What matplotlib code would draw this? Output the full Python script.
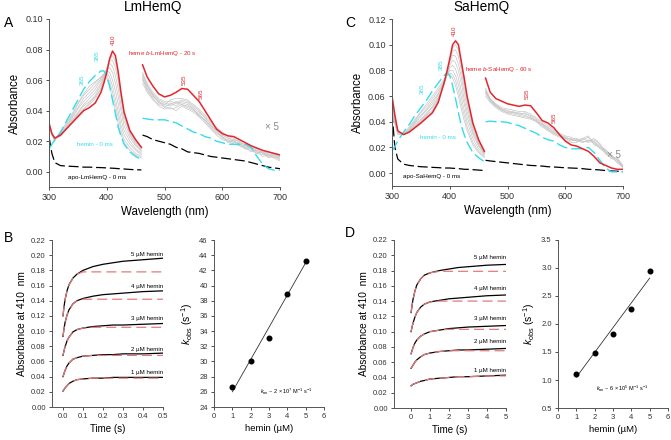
import numpy as np
import matplotlib
matplotlib.use("Agg")
import matplotlib.pyplot as plt

plt.rcParams['font.family'] = ['Liberation Sans', 'DejaVu Sans']
plt.rcParams['mathtext.fontset'] = 'custom'
plt.rcParams['mathtext.rm'] = 'Liberation Sans'
plt.rcParams['mathtext.it'] = 'Liberation Sans:italic'

RED = '#e3262d'
CYAN = '#36dced'
GRAY = '#c6c6c6'
FIT = '#e37b7b'

# ---------------- spectra data ----------------
wl_left = [300, 305, 310, 320, 330, 340, 350, 360, 370, 380, 390, 395, 400, 405, 410, 415, 420, 425, 430, 440, 450, 460]
wl_right = [462, 470, 480, 490, 500, 510, 520, 530, 540, 550, 560, 570, 580, 590, 600, 610, 620, 630, 640, 650, 660, 670, 680, 690, 700]

# LmHemQ
lm_red_left = [0.032, 0.025, 0.022, 0.024, 0.028, 0.032, 0.036, 0.040, 0.042, 0.045, 0.052, 0.058, 0.065, 0.074, 0.079, 0.076, 0.065, 0.051, 0.039, 0.027, 0.021, 0.016]
lm_cyan_left = [0.015, 0.018, 0.021, 0.026, 0.033, 0.040, 0.047, 0.054, 0.059, 0.063, 0.066, 0.066, 0.063, 0.056, 0.047, 0.038, 0.029, 0.023, 0.018, 0.013, 0.010, 0.008]
lm_apo_left = [0.023, 0.012, 0.006, 0.004, 0.0037, 0.0035, 0.0033, 0.003, 0.003, 0.0028, 0.0027, 0.0026, 0.0025, 0.0024, 0.0023, 0.0022, 0.002, 0.002, 0.0018, 0.0015, 0.0013, 0.0012]
lm_gray_left = [
    [0.030, 0.024, 0.020, 0.026, 0.032, 0.038, 0.045, 0.051, 0.056, 0.059, 0.062, 0.063, 0.061, 0.056, 0.048, 0.040, 0.031, 0.024, 0.019, 0.014, 0.011, 0.009],
    [0.030, 0.024, 0.021, 0.025, 0.031, 0.037, 0.044, 0.050, 0.054, 0.058, 0.062, 0.064, 0.063, 0.059, 0.052, 0.044, 0.035, 0.027, 0.021, 0.016, 0.012, 0.010],
    [0.031, 0.025, 0.021, 0.025, 0.030, 0.036, 0.042, 0.048, 0.052, 0.056, 0.061, 0.064, 0.065, 0.062, 0.056, 0.048, 0.039, 0.030, 0.024, 0.018, 0.014, 0.011],
    [0.029, 0.024, 0.021, 0.024, 0.029, 0.035, 0.041, 0.046, 0.050, 0.054, 0.060, 0.064, 0.066, 0.065, 0.060, 0.053, 0.044, 0.034, 0.027, 0.020, 0.015, 0.012],
    [0.031, 0.025, 0.022, 0.024, 0.029, 0.034, 0.039, 0.044, 0.048, 0.052, 0.058, 0.063, 0.067, 0.068, 0.065, 0.058, 0.049, 0.039, 0.030, 0.022, 0.017, 0.013],
    [0.030, 0.024, 0.021, 0.024, 0.028, 0.033, 0.038, 0.043, 0.046, 0.050, 0.057, 0.062, 0.068, 0.071, 0.069, 0.063, 0.054, 0.043, 0.033, 0.024, 0.018, 0.014],
    [0.032, 0.025, 0.022, 0.023, 0.028, 0.032, 0.037, 0.041, 0.045, 0.049, 0.055, 0.061, 0.068, 0.073, 0.073, 0.068, 0.059, 0.047, 0.036, 0.025, 0.019, 0.015],
    [0.031, 0.025, 0.022, 0.024, 0.028, 0.033, 0.037, 0.041, 0.044, 0.048, 0.054, 0.060, 0.067, 0.074, 0.076, 0.072, 0.062, 0.049, 0.037, 0.026, 0.020, 0.015],
]
lm_red_right = [0.070, 0.062, 0.056, 0.051, 0.049, 0.050, 0.052, 0.0545, 0.054, 0.050, 0.046, 0.040, 0.034, 0.028, 0.025, 0.0235, 0.023, 0.021, 0.019, 0.017, 0.0155, 0.014, 0.013, 0.012, 0.011]
lm_cyan_right = [0.035, 0.0345, 0.034, 0.034, 0.034, 0.033, 0.032, 0.030, 0.028, 0.026, 0.025, 0.023, 0.022, 0.020, 0.019, 0.018, 0.018, 0.018, 0.018, 0.016, 0.010, 0.005, 0.002, 0.001, 0.001]
lm_apo_right = [0.024, 0.023, 0.021, 0.020, 0.019, 0.018, 0.016, 0.015, 0.013, 0.0125, 0.012, 0.011, 0.010, 0.0095, 0.009, 0.0085, 0.008, 0.0075, 0.007, 0.006, 0.005, 0.004, 0.003, 0.0025, 0.002]
lm_gray_right = [
    [0.064, 0.058, 0.052, 0.048, 0.046, 0.046, 0.045, 0.047, 0.046, 0.043, 0.040, 0.035, 0.032, 0.028, 0.024, 0.022, 0.021, 0.020, 0.017, 0.016, 0.014, 0.013, 0.010, 0.012, 0.009],
    [0.062, 0.055, 0.050, 0.045, 0.044, 0.043, 0.045, 0.044, 0.043, 0.041, 0.037, 0.034, 0.030, 0.026, 0.023, 0.020, 0.020, 0.018, 0.016, 0.015, 0.012, 0.014, 0.011, 0.010, 0.008],
    [0.060, 0.054, 0.049, 0.046, 0.042, 0.045, 0.043, 0.046, 0.045, 0.042, 0.039, 0.036, 0.031, 0.027, 0.022, 0.021, 0.019, 0.019, 0.015, 0.016, 0.013, 0.011, 0.012, 0.009, 0.010],
    [0.058, 0.052, 0.047, 0.044, 0.043, 0.041, 0.042, 0.044, 0.042, 0.040, 0.038, 0.033, 0.029, 0.025, 0.023, 0.019, 0.021, 0.017, 0.016, 0.013, 0.014, 0.012, 0.009, 0.011, 0.008],
    [0.063, 0.056, 0.051, 0.047, 0.045, 0.044, 0.046, 0.045, 0.044, 0.041, 0.036, 0.034, 0.030, 0.027, 0.024, 0.022, 0.020, 0.018, 0.017, 0.015, 0.013, 0.010, 0.011, 0.012, 0.010],
    [0.061, 0.053, 0.048, 0.043, 0.041, 0.042, 0.040, 0.043, 0.041, 0.039, 0.036, 0.032, 0.028, 0.024, 0.021, 0.020, 0.018, 0.017, 0.015, 0.014, 0.012, 0.013, 0.010, 0.009, 0.007],
    [0.065, 0.057, 0.050, 0.046, 0.044, 0.047, 0.048, 0.048, 0.047, 0.044, 0.041, 0.037, 0.033, 0.029, 0.026, 0.023, 0.022, 0.019, 0.018, 0.016, 0.015, 0.012, 0.013, 0.011, 0.010],
]

# SaHemQ
sa_red_left = [0.060, 0.045, 0.033, 0.030, 0.032, 0.0355, 0.039, 0.043, 0.047, 0.055, 0.070, 0.079, 0.089, 0.100, 0.103, 0.100, 0.087, 0.074, 0.060, 0.039, 0.026, 0.017]
sa_cyan_left = [0.017, 0.021, 0.025, 0.032, 0.038, 0.045, 0.051, 0.057, 0.064, 0.070, 0.076, 0.078, 0.076, 0.068, 0.058, 0.047, 0.037, 0.030, 0.024, 0.016, 0.012, 0.009]
sa_apo_left = [0.047, 0.020, 0.011, 0.007, 0.006, 0.0055, 0.005, 0.0048, 0.0045, 0.0043, 0.004, 0.004, 0.004, 0.0038, 0.0037, 0.0035, 0.0033, 0.003, 0.003, 0.0027, 0.0024, 0.002]
sa_gray_left = [
    [0.050, 0.038, 0.030, 0.031, 0.036, 0.042, 0.048, 0.054, 0.060, 0.066, 0.073, 0.076, 0.077, 0.074, 0.068, 0.060, 0.050, 0.041, 0.033, 0.022, 0.016, 0.012],
    [0.052, 0.039, 0.031, 0.030, 0.035, 0.041, 0.047, 0.052, 0.058, 0.064, 0.072, 0.076, 0.078, 0.077, 0.072, 0.064, 0.054, 0.045, 0.036, 0.024, 0.017, 0.013],
    [0.053, 0.040, 0.031, 0.030, 0.034, 0.040, 0.045, 0.050, 0.056, 0.062, 0.071, 0.076, 0.080, 0.080, 0.076, 0.069, 0.059, 0.049, 0.040, 0.027, 0.019, 0.014],
    [0.055, 0.041, 0.032, 0.030, 0.034, 0.039, 0.044, 0.049, 0.054, 0.061, 0.070, 0.076, 0.082, 0.084, 0.081, 0.074, 0.064, 0.054, 0.044, 0.030, 0.021, 0.015],
    [0.056, 0.042, 0.032, 0.030, 0.033, 0.038, 0.042, 0.047, 0.052, 0.059, 0.069, 0.076, 0.084, 0.088, 0.086, 0.080, 0.070, 0.058, 0.048, 0.032, 0.022, 0.015],
    [0.057, 0.043, 0.032, 0.030, 0.033, 0.037, 0.041, 0.046, 0.051, 0.058, 0.069, 0.076, 0.086, 0.092, 0.091, 0.085, 0.075, 0.063, 0.052, 0.034, 0.023, 0.016],
    [0.058, 0.044, 0.033, 0.030, 0.032, 0.036, 0.040, 0.045, 0.049, 0.057, 0.070, 0.077, 0.087, 0.095, 0.096, 0.091, 0.080, 0.067, 0.055, 0.036, 0.024, 0.016],
    [0.059, 0.044, 0.033, 0.030, 0.032, 0.036, 0.040, 0.044, 0.048, 0.056, 0.070, 0.078, 0.088, 0.098, 0.100, 0.096, 0.084, 0.071, 0.058, 0.038, 0.025, 0.017],
]
sa_red_right = [0.074, 0.063, 0.058, 0.056, 0.054, 0.053, 0.052, 0.053, 0.0525, 0.047, 0.041, 0.039, 0.0355, 0.030, 0.025, 0.022, 0.021, 0.019, 0.017, 0.013, 0.008, 0.006, 0.004, 0.003, 0.003]
sa_cyan_right = [0.040, 0.0405, 0.040, 0.040, 0.0395, 0.038, 0.037, 0.035, 0.033, 0.031, 0.028, 0.026, 0.025, 0.022, 0.020, 0.019, 0.019, 0.019, 0.020, 0.016, 0.010, 0.004, 0.001, 0.001, 0.001]
sa_apo_right = [0.010, 0.0095, 0.009, 0.0085, 0.008, 0.0075, 0.007, 0.0065, 0.006, 0.0058, 0.0055, 0.005, 0.0048, 0.0045, 0.0042, 0.004, 0.0038, 0.0035, 0.003, 0.0028, 0.0025, 0.002, 0.0017, 0.0015, 0.0012]
sa_gray_right = [
    [0.066, 0.058, 0.054, 0.051, 0.050, 0.049, 0.048, 0.048, 0.046, 0.043, 0.040, 0.037, 0.034, 0.031, 0.029, 0.028, 0.026, 0.027, 0.025, 0.026, 0.022, 0.018, 0.014, 0.010, 0.006],
    [0.064, 0.057, 0.053, 0.050, 0.048, 0.047, 0.047, 0.046, 0.045, 0.042, 0.039, 0.035, 0.033, 0.030, 0.028, 0.026, 0.027, 0.024, 0.026, 0.023, 0.020, 0.017, 0.013, 0.011, 0.005],
    [0.062, 0.056, 0.052, 0.049, 0.047, 0.048, 0.046, 0.045, 0.043, 0.041, 0.037, 0.034, 0.031, 0.029, 0.027, 0.027, 0.025, 0.026, 0.028, 0.024, 0.021, 0.015, 0.012, 0.009, 0.004],
    [0.065, 0.058, 0.053, 0.050, 0.049, 0.047, 0.046, 0.047, 0.044, 0.040, 0.038, 0.036, 0.032, 0.030, 0.027, 0.025, 0.026, 0.025, 0.024, 0.025, 0.019, 0.016, 0.011, 0.012, 0.006],
    [0.060, 0.055, 0.051, 0.048, 0.046, 0.045, 0.044, 0.043, 0.042, 0.040, 0.036, 0.033, 0.030, 0.028, 0.026, 0.024, 0.024, 0.027, 0.029, 0.022, 0.020, 0.018, 0.013, 0.008, 0.005],
    [0.063, 0.057, 0.052, 0.049, 0.047, 0.046, 0.045, 0.044, 0.043, 0.041, 0.038, 0.034, 0.031, 0.029, 0.028, 0.026, 0.025, 0.024, 0.025, 0.027, 0.023, 0.016, 0.014, 0.010, 0.005],
]

# ---------------- kinetics data ----------------
conc_labels = ['1 µM hemin', '2 µM hemin', '3 µM hemin', '4 µM hemin', '5 µM hemin']

t_lm = [0, 0.005, 0.01, 0.02, 0.03, 0.05, 0.07, 0.1, 0.15, 0.2, 0.25, 0.3, 0.4, 0.5]
lm_trace = [
    [0.021, 0.023, 0.025, 0.028, 0.031, 0.034, 0.036, 0.037, 0.038, 0.038, 0.039, 0.039, 0.039, 0.039],
    [0.040, 0.044, 0.048, 0.054, 0.058, 0.063, 0.065, 0.067, 0.068, 0.069, 0.069, 0.070, 0.070, 0.071],
    [0.068, 0.074, 0.079, 0.087, 0.092, 0.099, 0.102, 0.104, 0.106, 0.107, 0.108, 0.108, 0.109, 0.110],
    [0.093, 0.103, 0.111, 0.121, 0.128, 0.136, 0.140, 0.143, 0.146, 0.148, 0.149, 0.150, 0.152, 0.153],
    [0.120, 0.132, 0.141, 0.153, 0.161, 0.170, 0.175, 0.180, 0.185, 0.188, 0.190, 0.192, 0.194, 0.196],
]
lm_fit = [
    [0.021, 0.023, 0.025, 0.028, 0.031, 0.034, 0.036, 0.037, 0.038, 0.038, 0.038, 0.038, 0.038, 0.038],
    [0.040, 0.044, 0.048, 0.054, 0.058, 0.063, 0.065, 0.067, 0.068, 0.068, 0.068, 0.068, 0.068, 0.068],
    [0.068, 0.074, 0.079, 0.087, 0.092, 0.099, 0.102, 0.104, 0.105, 0.105, 0.105, 0.105, 0.105, 0.105],
    [0.093, 0.103, 0.111, 0.121, 0.128, 0.136, 0.140, 0.142, 0.142, 0.142, 0.142, 0.142, 0.142, 0.142],
    [0.120, 0.132, 0.141, 0.153, 0.161, 0.170, 0.175, 0.178, 0.178, 0.178, 0.178, 0.178, 0.178, 0.178],
]
lm_label_y = [0.045, 0.076, 0.117, 0.159, 0.201]

t_sa = [0, 0.05, 0.1, 0.2, 0.3, 0.5, 0.7, 1.0, 1.5, 2.0, 2.5, 3.0, 4.0, 5.0]
sa_trace = [
    [0.029, 0.030, 0.031, 0.032, 0.033, 0.035, 0.036, 0.038, 0.039, 0.040, 0.041, 0.041, 0.042, 0.043],
    [0.052, 0.054, 0.056, 0.060, 0.063, 0.067, 0.070, 0.072, 0.074, 0.075, 0.076, 0.076, 0.077, 0.078],
    [0.071, 0.075, 0.079, 0.085, 0.089, 0.094, 0.097, 0.100, 0.102, 0.104, 0.105, 0.106, 0.107, 0.108],
    [0.100, 0.106, 0.111, 0.119, 0.125, 0.132, 0.136, 0.139, 0.141, 0.143, 0.144, 0.145, 0.147, 0.148],
    [0.125, 0.134, 0.142, 0.153, 0.161, 0.169, 0.174, 0.177, 0.180, 0.182, 0.184, 0.185, 0.187, 0.188],
]
sa_fit = [
    [0.029, 0.030, 0.031, 0.032, 0.033, 0.035, 0.036, 0.038, 0.039, 0.040, 0.041, 0.041, 0.042, 0.042],
    [0.052, 0.054, 0.056, 0.060, 0.063, 0.067, 0.070, 0.072, 0.074, 0.075, 0.075, 0.075, 0.075, 0.075],
    [0.071, 0.075, 0.079, 0.085, 0.089, 0.094, 0.097, 0.100, 0.102, 0.103, 0.103, 0.103, 0.103, 0.103],
    [0.100, 0.106, 0.111, 0.119, 0.125, 0.132, 0.136, 0.139, 0.140, 0.140, 0.140, 0.140, 0.140, 0.140],
    [0.125, 0.134, 0.142, 0.153, 0.161, 0.169, 0.174, 0.177, 0.179, 0.179, 0.179, 0.179, 0.179, 0.179],
]
sa_label_y = [0.049, 0.087, 0.117, 0.157, 0.197]

hemin_conc = [1, 2, 3, 4, 5]
lm_kobs = [26.7, 30.1, 33.1, 38.9, 43.2]
lm_kobs_line = [26.0, 43.0]
sa_kobs = [1.11, 1.49, 1.82, 2.26, 2.95]
sa_kobs_line = [1.05, 2.82]

W, H = 671, 440
fig = plt.figure(figsize=(W / 100, H / 100), dpi=100)


def box(left, top, right, bottom):
    return fig.add_axes([left / W, 1 - bottom / H, (right - left) / W, (bottom - top) / H])


def style(ax, size):
    for s in ['top', 'right']:
        ax.spines[s].set_visible(False)
    for s in ['left', 'bottom']:
        ax.spines[s].set_linewidth(0.7)
        ax.spines[s].set_color('#555555')
    ax.tick_params(direction='out', length=2.5, width=0.6, labelsize=size, colors='#333333', pad=2)


def spectra(ax, red_l, cyan_l, apo_l, gray_l, red_r, cyan_r, apo_r, gray_r):
    for g in gray_l:
        ax.plot(wl_left, g, color=GRAY, lw=0.5)
    for g in gray_r:
        ax.plot(wl_right, g, color=GRAY, lw=0.5)
    ax.plot(wl_left, apo_l, color='black', lw=0.9, ls=(0, (8, 3)))
    ax.plot(wl_right, apo_r, color='black', lw=0.9, ls=(0, (8, 3)))
    ax.plot(wl_left, cyan_l, color=CYAN, lw=1.0, ls=(0, (8, 3)))
    ax.plot(wl_right, cyan_r, color=CYAN, lw=1.0, ls=(0, (8, 3)))
    ax.plot(wl_left, red_l, color=RED, lw=1.1)
    ax.plot(wl_right, red_r, color=RED, lw=1.1)
    ax.set_xlim(300, 700)
    ax.set_xticks([300, 400, 500, 600, 700])
    ax.set_xlabel('Wavelength (nm)', fontsize=8.3, labelpad=3)
    ax.set_ylabel('Absorbance', fontsize=8.3, labelpad=3)
    style(ax, 6.5)


# ---- panel A ----
axA = box(49, 19, 280, 187)
spectra(axA, lm_red_left, lm_cyan_left, lm_apo_left, lm_gray_left,
        lm_red_right, lm_cyan_right, lm_apo_right, lm_gray_right)
axA.set_ylim(-0.01, 0.10)
axA.set_yticks(np.arange(0, 0.101, 0.02))
axA.yaxis.set_major_formatter(matplotlib.ticker.FormatStrFormatter('%.2f'))
axA.text(411, 0.0867, '410', color=RED, fontsize=4.5, rotation=90, ha='center', va='center')
axA.text(384, 0.076, '385', color=CYAN, fontsize=4.5, rotation=90, ha='center', va='center')
axA.text(357, 0.060, '365', color=CYAN, fontsize=4.5, rotation=90, ha='center', va='center')
axA.text(534, 0.060, '535', color=RED, fontsize=4.5, rotation=90, ha='center', va='center')
axA.text(563, 0.051, '565', color=RED, fontsize=4.5, rotation=90, ha='center', va='center')
axA.text(437, 0.0775, 'heme $\\it{b}$-LmHemQ - 20 s', color=RED, fontsize=4.5, va='center')
axA.text(348, 0.0177, 'hemin - 0 ms', color=CYAN, fontsize=4.5, va='center')
axA.text(333, -0.0035, 'apo-LmHemQ - 0 ms', color='black', fontsize=4.5, va='center')
axA.text(674, 0.029, '× 5', color='#888888', fontsize=7, va='center')

# ---- panel C ----
axC = box(392, 19, 623, 186)
spectra(axC, sa_red_left, sa_cyan_left, sa_apo_left, sa_gray_left,
        sa_red_right, sa_cyan_right, sa_apo_right, sa_gray_right)
axC.set_ylim(-0.01, 0.12)
axC.set_yticks(np.arange(0, 0.121, 0.02))
axC.yaxis.set_major_formatter(matplotlib.ticker.FormatStrFormatter('%.2f'))
axC.text(408, 0.111, '410', color=RED, fontsize=4.5, rotation=90, ha='center', va='center')
axC.text(385, 0.084, '385', color=CYAN, fontsize=4.5, rotation=90, ha='center', va='center')
axC.text(352, 0.0655, '365', color=CYAN, fontsize=4.5, rotation=90, ha='center', va='center')
axC.text(534, 0.0617, '535', color=RED, fontsize=4.5, rotation=90, ha='center', va='center')
axC.text(580, 0.043, '565', color=RED, fontsize=4.5, rotation=90, ha='center', va='center')
axC.text(427, 0.081, 'heme $\\it{b}$-SaHemQ - 60 s', color=RED, fontsize=4.5, va='center')
axC.text(349, 0.0276, 'hemin - 0 ms', color=CYAN, fontsize=4.5, va='center')
axC.text(319, -0.0026, 'apo-SaHemQ - 0 ms', color='black', fontsize=4.5, va='center')
axC.text(672, 0.0145, '× 5', color='#888888', fontsize=7, va='center')


def kinetics(ax, t, traces, fits, label_y, label_x):
    for tr, ft, lab, ly in zip(traces, fits, conc_labels, label_y):
        ax.plot(t, tr, color='black', lw=0.9)
        ax.plot(t, ft, color=FIT, lw=0.9, ls=(0, (8, 4)))
        ax.text(label_x, ly, lab, fontsize=4.4, ha='right', va='center', clip_on=False)
    ax.set_ylim(0, 0.22)
    ax.set_yticks(np.arange(0, 0.221, 0.02))
    ax.yaxis.set_major_formatter(matplotlib.ticker.FormatStrFormatter('%.2f'))
    ax.set_xlabel('Time (s)', fontsize=7, labelpad=3)
    ax.set_ylabel('Absorbance at 410  nm', fontsize=7.3, labelpad=3)
    style(ax, 5.5)


def kobs_plot(ax, y, line, ylim, yticks, fmt, ktext, kx, ky):
    ax.plot([hemin_conc[0], hemin_conc[-1]], line, color='#333333', lw=0.6)
    ax.plot(hemin_conc, y, 'o', color='black', ms=3.3)
    ax.set_xlim(0, 6)
    ax.set_xticks(range(0, 7))
    ax.set_ylim(*ylim)
    ax.set_yticks(yticks)
    ax.yaxis.set_major_formatter(matplotlib.ticker.FormatStrFormatter(fmt))
    ax.set_xlabel('hemin (µM)', fontsize=6.8, labelpad=3)
    ax.set_ylabel('$\\it{k}$$_{\\rm obs}$ (s$^{-1}$)', fontsize=7.5, labelpad=3)
    ax.text(kx, ky, ktext, fontsize=4.0, va='center')
    style(ax, 5.5)


# ---- panel B ----
axB1 = box(52, 240, 163, 407)
kinetics(axB1, t_lm, lm_trace, lm_fit, lm_label_y, 0.5)
axB1.set_xlim(-0.055, 0.5)
axB1.set_xticks([0, 0.1, 0.2, 0.3, 0.4, 0.5])
axB1.xaxis.set_major_formatter(matplotlib.ticker.FormatStrFormatter('%.1f'))

axB2 = box(214, 240, 324, 407)
kobs_plot(axB2, lm_kobs, lm_kobs_line, (24, 46), range(24, 47, 2), '%d',
          '$\\it{k}_{\\rm on}$ ~ 2 × 10$^{7}$ M$^{-1}$ s$^{-1}$', 2.5, 26.0)

# ---- panel D ----
axD1 = box(394, 240, 506, 408)
kinetics(axD1, t_sa, sa_trace, sa_fit, sa_label_y, 5.0)
axD1.set_xlim(-0.9, 5)
axD1.set_xticks(range(0, 6))

axD2 = box(558, 240, 668, 408)
kobs_plot(axD2, sa_kobs, sa_kobs_line, (0.5, 3.5), np.arange(0.5, 3.51, 0.5), '%.1f',
          '$\\it{k}_{\\rm on}$ ~ 6 × 10$^{5}$ M$^{-1}$ s$^{-1}$', 2.1, 0.84)

# titles and panel letters
fig.text(153 / W, 1 - 7 / H, 'LmHemQ', fontsize=9.8, ha='center', va='center')
fig.text(482 / W, 1 - 7 / H, 'SaHemQ', fontsize=9.8, ha='center', va='center')
fig.text(4 / W, 1 - 23 / H, 'A', fontsize=10, va='center')
fig.text(345 / W, 1 - 23 / H, 'C', fontsize=10, va='center')
fig.text(4 / W, 1 - 238 / H, 'B', fontsize=10, va='center')
fig.text(345 / W, 1 - 233 / H, 'D', fontsize=10, va='center')

fig.savefig('out.png', dpi=100)
